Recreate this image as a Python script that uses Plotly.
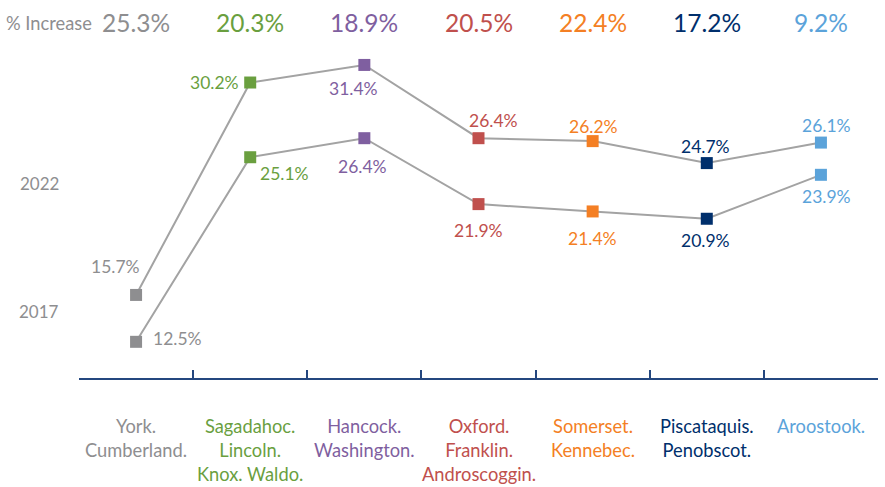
import plotly.graph_objects as go

# ---- data ----
regions = ["York.<br>Cumberland.", "Sagadahoc.<br>Lincoln.<br>Knox. Waldo.",
           "Hancock.<br>Washington.", "Oxford.<br>Franklin.<br>Androscoggin.",
           "Somerset.<br>Kennebec.", "Piscataquis.<br>Penobscot.", "Aroostook."]
keys = ["York", "Sagadahoc", "Hancock", "Oxford", "Somerset", "Piscataquis", "Aroostook"]
val_2022 = [15.7, 30.2, 31.4, 26.4, 26.2, 24.7, 26.1]
val_2017 = [12.5, 25.1, 26.4, 21.9, 21.4, 20.9, 23.9]
pct_increase = ["25.3%", "20.3%", "18.9%", "20.5%", "22.4%", "17.2%", "9.2%"]

# ---- styles ----
colors = ["#8E8E90", "#6A9F3F", "#7F5FA0", "#C0504D", "#F47F24", "#002F6C", "#5BA3DA"]
line_col = "#A3A3A3"
axis_col = "#24477F"
FONT = "Lato"
# label offsets (px) for data labels: (xshift, yshift)
off_2022 = [(-21, 28), (-36, 0), (-11, -24), (15, 18), (1, 15), (-1, 17), (6, 17)]
off_2017 = [(41, 3), (34, -16), (-2, -28), (0, -26), (0, -27), (-1, -22), (6, -22)]

fig = go.Figure()
for vals in (val_2022, val_2017):
    fig.add_trace(go.Scatter(
        x=keys, y=vals, mode="lines+markers",
        line=dict(color=line_col, width=2),
        marker=dict(symbol="square", size=12, color=colors, line=dict(width=0)),
        showlegend=False, hoverinfo="skip"))

ann = []
for vals, offs in ((val_2022, off_2022), (val_2017, off_2017)):
    for k, v, c, (dx, dy) in zip(keys, vals, colors, offs):
        ann.append(dict(x=k, y=v, xref="x", yref="y", text=f"{v:.1f}%", showarrow=False,
                        xshift=dx, yshift=dy, font=dict(family=FONT, size=17.5, color=c)))

for k, lab, c in zip(keys, regions, colors):
    ann.append(dict(x=k, y=0, xref="x", yref="paper", text=lab, showarrow=False,
                    yanchor="top", yshift=-35, align="center",
                    font=dict(family=FONT, size=18.3, color=c)))

for k, p, c in zip(keys, pct_increase, colors):
    ann.append(dict(x=k, y=1, xref="x", yref="paper", text=p, showarrow=False,
                    yanchor="middle", yshift=28, font=dict(family=FONT, size=24.5, color=c)))

ann.append(dict(x=-0.0375, y=1, xref="paper", yref="paper", text="% Increase", showarrow=False,
                xanchor="center", yanchor="middle", yshift=27,
                font=dict(family=FONT, size=18.3, color="#8E8E90")))
ann.append(dict(x=-0.05, y=0.5945, xref="paper", yref="paper", text="2022", showarrow=False,
                xanchor="center", yanchor="middle",
                font=dict(family=FONT, size=17, color="#8E8E90")))
ann.append(dict(x=-0.05, y=0.204, xref="paper", yref="paper", text="2017", showarrow=False,
                xanchor="center", yanchor="middle",
                font=dict(family=FONT, size=17, color="#8E8E90")))

fig.update_layout(
    width=885, height=487,
    margin=dict(l=79, r=7, t=50, b=109),
    paper_bgcolor="white", plot_bgcolor="white",
    annotations=ann,
    xaxis=dict(type="category", range=[-0.5, 6.5], showgrid=False, zeroline=False,
               showline=True, linecolor=axis_col, linewidth=2,
               ticks="inside", tickson="boundaries", ticklen=8, tickwidth=2,
               tickcolor=axis_col, showticklabels=False),
    yaxis=dict(range=[10.03, 32.42], visible=False),
)

fig.write_html("out.html", config={"displayModeBar": False},
               post_script="document.body.style.margin='0';document.body.style.overflow='hidden';")
